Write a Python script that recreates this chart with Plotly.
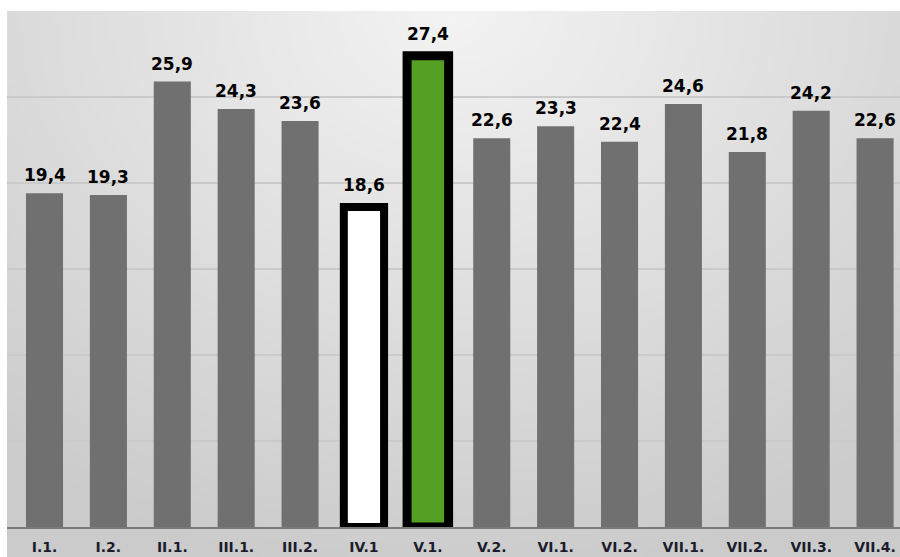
import base64, struct, zlib
import plotly.graph_objects as go

categories = ["I.1.", "I.2.", "II.1.", "III.1.", "III.2.", "IV.1", "V.1.",
              "V.2.", "VI.1.", "VI.2.", "VII.1.", "VII.2.", "VII.3.", "VII.4."]
values = [19.4, 19.3, 25.9, 24.3, 23.6, 18.6, 27.4,
          22.6, 23.3, 22.4, 24.6, 21.8, 24.2, 22.6]

GRAY = "#707070"
fill_colors = [GRAY] * len(categories)
line_colors = [GRAY] * len(categories)
line_widths = [0] * len(categories)
bar_widths = [0.58] * len(categories)
i_white = categories.index("IV.1")
i_green = categories.index("V.1.")
fill_colors[i_white] = "#ffffff"
fill_colors[i_green] = "#53a023"
line_colors[i_white] = "#000000"
line_colors[i_green] = "#000000"
line_widths[i_white] = 8
line_widths[i_green] = 9
bar_widths[i_white] = 0.63
bar_widths[i_green] = 0.65


def gradient_png(w=180, h=110):
    # radial light-gray background (style only)
    rows = []
    for j in range(h):
        row = bytearray([0])
        for i in range(w):
            dx = (i / (w - 1) - 0.5) * 1.25
            dy = (j / (h - 1)) * 0.95
            d = min(1.0, (dx * dx + dy * dy) ** 0.5)
            v = int(round(243 - (243 - 203) * d))
            row += bytes([v, v, v])
        rows.append(bytes(row))
    raw = b"".join(rows)

    def chunk(t, data):
        c = struct.pack(">I", len(data)) + t + data
        return c + struct.pack(">I", zlib.crc32(t + data) & 0xffffffff)

    png = b"\x89PNG\r\n\x1a\n"
    png += chunk(b"IHDR", struct.pack(">IIBBBBB", w, h, 8, 2, 0, 0, 0))
    png += chunk(b"IDAT", zlib.compress(raw, 9))
    png += chunk(b"IEND", b"")
    return "data:image/png;base64," + base64.b64encode(png).decode()


fig = go.Figure(go.Bar(
    x=list(range(len(categories))),
    y=values,
    width=bar_widths,
    marker=dict(color=fill_colors, line=dict(color=line_colors, width=line_widths)),
    hoverinfo="skip",
))

for i, v in enumerate(values):
    fig.add_annotation(
        x=i, y=v, xref="x", yref="y",
        text=f"{v:.1f}".replace(".", ","),
        showarrow=False, yanchor="bottom", xanchor="center",
        yshift=6 + line_widths[i] * 0.45,
        font=dict(family="DejaVu Sans", size=17, color="#000000", weight="bold"),
    )

W, H = 900, 557
ml, mr, mt, mb = 7, 0, 11, 30
pw, ph = W - ml - mr, H - mt - mb

fig.update_layout(
    width=W, height=H,
    margin=dict(l=ml, r=mr, t=mt, b=mb, pad=0),
    paper_bgcolor="#ffffff",
    plot_bgcolor="rgba(0,0,0,0)",
    separators=", ",
    showlegend=False,
    bargap=0.42,
    images=[dict(source=gradient_png(), xref="paper", yref="paper",
                 x=0, y=1, sizex=1, sizey=(H - mt) / ph,
                 xanchor="left", yanchor="top", sizing="stretch", layer="below")],
    xaxis=dict(
        tickmode="array", tickvals=list(range(len(categories))), ticktext=categories,
        range=[-0.587, 13.39],
        showgrid=False, zeroline=False,
        showline=True, linecolor="#7a7a7a", linewidth=2,
        ticks="outside", ticklen=6, tickcolor="rgba(0,0,0,0)",
        tickfont=dict(family="DejaVu Sans", size=14, color="#1c1c2c", weight="bold"),
    ),
    yaxis=dict(
        range=[0, 30], dtick=5, tick0=0,
        showgrid=True, gridcolor="#cacaca", gridwidth=2,
        zeroline=False, showticklabels=False, ticks="",
    ),
)

fig.write_html("out.html", config={"displayModeBar": False},
               post_script="document.body.style.margin='0';document.body.style.overflow='hidden';")
